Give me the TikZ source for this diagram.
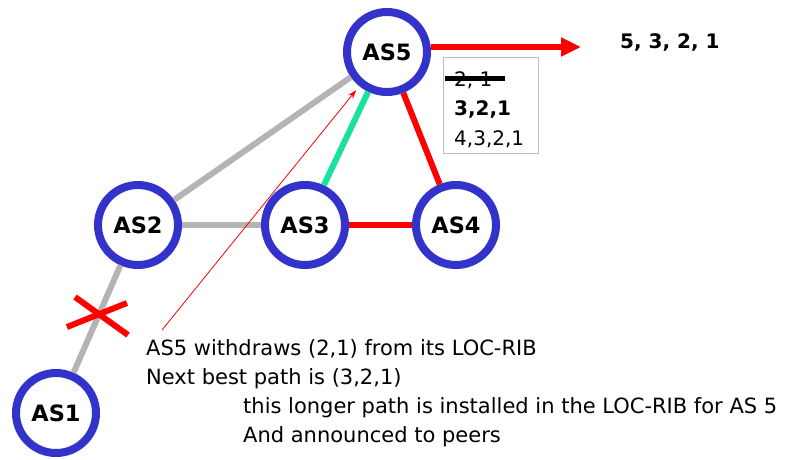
\documentclass[tikz,border=0pt]{standalone}
\usepackage{fontspec}
\setmainfont{DejaVu Sans}
\usetikzlibrary{arrows.meta}
\definecolor{ringblue}{RGB}{51,51,204}
\definecolor{edgegray}{RGB}{180,180,180}
\definecolor{tealgreen}{RGB}{26,224,160}
\definecolor{boxgray}{RGB}{190,190,190}
\begin{document}
\begin{tikzpicture}[x=1pt,y=-1pt,
  asnode/.style={circle,draw=ringblue,line width=8pt,fill=white,minimum size=80pt,inner sep=0pt,
    font=\bfseries\fontsize{22.5pt}{26pt}\selectfont},
  grayedge/.style={draw=edgegray,line width=6pt},
  rededge/.style={draw=red,line width=6pt},
  greenedge/.style={draw=tealgreen,line width=6pt},
  bodytext/.style={anchor=base west,inner sep=0pt,font=\fontsize{21pt}{25pt}\selectfont},
  ribtext/.style={anchor=base west,inner sep=0pt,font=\fontsize{20pt}{24pt}\selectfont},
  crossline/.style={draw=red,line width=6pt}]
\useasboundingbox (0,0) rectangle (789,459);

% nodes
\node[asnode] (as5) at (387,52) {AS5};
\node[asnode] (as2) at (138,225) {AS2};
\node[asnode] (as3) at (305,225) {AS3};
\node[asnode] (as4) at (456,225) {AS4};
\node[asnode] (as1) at (56,413) {AS1};

% edges
\draw[grayedge] (as5) -- (as2);
\draw[grayedge] (as2) -- (as3);
\draw[grayedge] (as2) -- (as1);
\draw[greenedge] (as5) -- (as3);
\draw[rededge] (as5) -- (as4);
\draw[rededge] (as3) -- (as4);

% announcement arrow
\coordinate (tip) at (581,47);
\draw[draw=red,line width=5.5pt,-{Triangle[length=20pt,width=18pt]}] (as5.east |- tip) -- (tip);
\node[anchor=base west,inner sep=0pt,font=\bfseries\fontsize{20pt}{24pt}\selectfont] (path) at (620,48) {5, 3, 2, 1};

% LOC-RIB box
\draw[draw=boxgray,line width=1pt] (443,57) rectangle (538,153);
\node[ribtext] (r1) at (454,86) {2, 1};
\draw[line width=5pt] (445,78) -- (505,78);
\node[ribtext,font=\bfseries\fontsize{20pt}{24pt}\selectfont] (r2) at (454,115) {3,2,1};
\node[ribtext] (r3) at (454,145) {4,3,2,1};

% failed link
\draw[crossline] (75,297) -- (128,335);
\draw[crossline] (67,327) -- (127,303);

% explanation
\node[bodytext] (t1) at (146,355) {AS5 withdraws (2,1) from its LOC-RIB};
\node[bodytext] (t2) at (146,384) {Next best path is (3,2,1)};
\node[bodytext] (t3) at (243,413) {this longer path is installed in the LOC-RIB for AS 5};
\node[bodytext] (t4) at (243,442) {And announced to peers};
\coordinate (pstart) at (162,330);
\draw[red,line width=0.8pt,-{Stealth[length=9pt,width=6pt]},shorten >=5pt] (pstart) -- (as5);
\end{tikzpicture}
\end{document}
